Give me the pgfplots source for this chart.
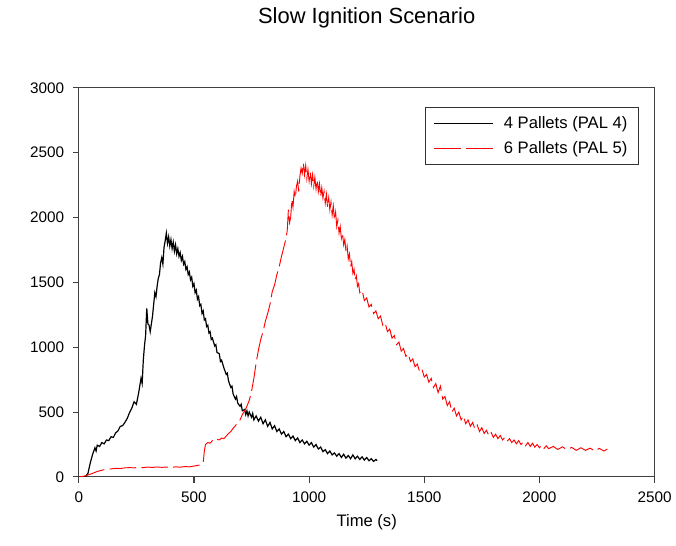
\documentclass[border=0pt]{standalone}
\usepackage{fontspec}
\setmainfont{Liberation Sans}
\usepackage{pgfplots}
\pgfplotsset{compat=1.18}
\begin{document}
\begin{tikzpicture}
\begin{axis}[
  name=ax,
  scale only axis,
  width=432.75pt, height=292.5pt,
  xmin=0, xmax=2500, ymin=0, ymax=3000,
  xtick={0,500,...,2500}, ytick={0,500,...,3000},
  xtick pos=bottom, ytick pos=left,
  tick align=outside, major tick length=4.5pt,
  axis line style={black!75, line width=0.8pt},
  tick style={black!75, line width=0.8pt},
  /pgf/number format/assume math mode=true,
  /pgf/number format/1000 sep={},
  ticklabel style={font=\fontsize{11.5}{13}\selectfont},
  yticklabel style={xshift=-3pt},
  xticklabel style={yshift=-3pt},
  xlabel={Time (s)},
  xlabel style={font=\fontsize{12.5}{14}\selectfont, yshift=-2pt},
  legend style={at={(1,1)}, xshift=-12pt, yshift=-14.25pt, anchor=north east,
    draw=black!80, line width=0.8pt, font=\fontsize{12.5}{15}\selectfont,
    row sep=4pt, inner xsep=6pt, inner ysep=5pt},
  legend cell align=left,
  legend image code/.code={\draw[#1] (0pt,0pt) -- (44pt,0pt); \path (50pt,0pt);},
]
\addplot[black, line width=0.9pt] coordinates {
(0,0)(20,2)(30,5)(40,30)(50,110)(60,175)(70,225)(75,200)(80,245)(90,235)
(100,265)(110,255)(120,285)(130,280)(140,310)(150,305)(160,340)(170,355)(180,390)(190,395)
(200,420)(210,450)(220,495)(230,530)(240,580)(250,560)(260,650)(270,760)(275,720)(280,900)
(285,1010)(290,1090)(295,1300)(300,1180)(305,1170)(310,1120)(315,1180)(320,1240)(325,1330)(330,1420)
(335,1390)(340,1470)(345,1530)(350,1560)(355,1650)(360,1690)(365,1640)(370,1770)(375,1820)(380,1880)
(385,1800)(390,1850)(395,1780)(400,1830)(405,1760)(410,1810)(415,1740)(420,1790)(425,1720)(430,1760)
(435,1700)(440,1730)(445,1670)(450,1700)(455,1640)(460,1660)(465,1600)(470,1620)(475,1560)(480,1580)
(485,1520)(490,1540)(495,1470)(500,1490)(505,1420)(510,1440)(515,1370)(520,1390)(525,1320)(530,1330)
(535,1260)(540,1280)(545,1210)(550,1220)(555,1160)(560,1170)(565,1110)(570,1120)(575,1060)(580,1070)
(590,1010)(595,1020)(600,960)(610,950)(615,890)(620,900)(630,840)(640,790)(645,800)(650,740)
(660,690)(665,700)(670,640)(680,600)(685,620)(690,570)(700,545)(705,560)(710,510)(720,520)
(725,480)(730,510)(735,470)(740,500)(750,460)(755,490)(760,440)(770,470)(780,430)(790,460)
(800,410)(810,440)(820,390)(830,420)(840,370)(850,395)(860,350)(870,370)(880,330)(890,350)
(900,310)(910,330)(920,295)(930,315)(940,280)(950,300)(960,265)(970,285)(980,255)(990,275)
(1000,245)(1010,265)(1020,230)(1030,250)(1040,215)(1050,230)(1060,195)(1070,210)(1080,180)(1090,200)
(1100,170)(1110,185)(1120,160)(1130,180)(1140,150)(1150,175)(1160,145)(1170,165)(1180,140)(1190,170)
(1200,140)(1210,160)(1220,135)(1230,155)(1240,130)(1250,150)(1260,125)(1270,140)(1280,120)(1290,135)
(1295,125)
};
\addlegendentry{4 Pallets (PAL 4)}
\addplot[red, line width=0.7pt, dash pattern=on 20pt off 4pt] coordinates {
(0,0)(20,5)(40,15)(60,28)(80,42)(100,52)(120,58)(140,62)(160,66)(180,65)
(200,70)(220,72)(240,70)(260,74)(280,72)(300,76)(320,73)(340,77)(360,74)(380,76)
(400,72)(420,78)(440,75)(460,80)(480,78)(500,84)(520,90)(530,95)(540,110)(545,200)
(550,250)(560,265)(570,260)(580,280)(590,275)(600,290)(610,285)(620,300)(630,295)(640,315)
(650,335)(660,350)(670,375)(680,395)(690,420)(700,440)(710,480)(720,510)(730,545)(740,590)
(750,660)(760,760)(770,880)(780,980)(790,1060)(800,1120)(810,1200)(820,1260)(830,1330)(840,1430)
(850,1480)(860,1560)(870,1620)(880,1700)(890,1770)(900,1840)(905,1900)(910,2060)(915,1960)(920,2000)
(925,2140)(930,2080)(935,2200)(940,2150)(945,2240)(950,2280)(955,2200)(960,2320)(965,2380)(970,2340)
(975,2420)(980,2330)(985,2400)(990,2300)(995,2370)(1000,2280)(1005,2350)(1010,2260)(1015,2330)(1020,2240)
(1025,2310)(1030,2220)(1035,2290)(1040,2200)(1045,2260)(1050,2160)(1055,2230)(1060,2150)(1065,2200)(1070,2110)
(1075,2180)(1080,2080)(1085,2150)(1090,2060)(1095,2120)(1100,2020)(1105,2090)(1110,1980)(1115,2040)(1120,1930)
(1125,1980)(1130,1880)(1135,1930)(1140,1840)(1145,1880)(1150,1790)(1155,1830)(1160,1740)(1165,1780)(1170,1680)
(1175,1720)(1180,1620)(1185,1660)(1190,1570)(1195,1600)(1200,1520)(1205,1550)(1210,1470)(1215,1490)(1220,1420)
(1230,1440)(1240,1360)(1250,1380)(1260,1310)(1270,1330)(1280,1260)(1290,1280)(1300,1220)(1310,1240)(1320,1170)
(1330,1190)(1340,1120)(1350,1140)(1360,1070)(1370,1090)(1380,1020)(1390,1040)(1400,970)(1410,990)(1420,930)
(1430,950)(1440,890)(1450,910)(1460,850)(1470,870)(1480,810)(1490,830)(1500,770)(1510,790)(1520,730)
(1530,760)(1540,690)(1550,720)(1560,650)(1570,700)(1580,600)(1590,620)(1600,550)(1610,580)(1620,500)
(1630,530)(1640,470)(1650,500)(1660,440)(1670,470)(1680,410)(1690,440)(1700,390)(1710,420)(1720,370)
(1730,400)(1740,350)(1750,380)(1760,335)(1770,360)(1780,320)(1790,345)(1800,305)(1810,330)(1820,295)
(1830,320)(1840,285)(1850,305)(1860,275)(1870,295)(1880,265)(1890,285)(1900,255)(1910,280)(1920,250)
(1930,270)(1940,240)(1950,265)(1960,235)(1970,260)(1980,230)(1990,250)(2000,225)(2010,245)(2020,220)
(2030,240)(2040,218)(2060,235)(2080,212)(2100,232)(2120,210)(2140,228)(2160,205)(2180,225)(2200,205)
(2220,222)(2240,200)(2260,220)(2280,200)(2295,215)
};
\addlegendentry{6 Pallets (PAL 5)}
\end{axis}
\node[font=\fontsize{16.5}{20}\selectfont] at ([yshift=52.5pt]ax.north) {Slow Ignition Scenario};
\path[use as bounding box] ([shift={(-59.25pt,-51.75pt)}]ax.south west) rectangle ([shift={(15pt,66pt)}]ax.north east);
\end{tikzpicture}
\end{document}
